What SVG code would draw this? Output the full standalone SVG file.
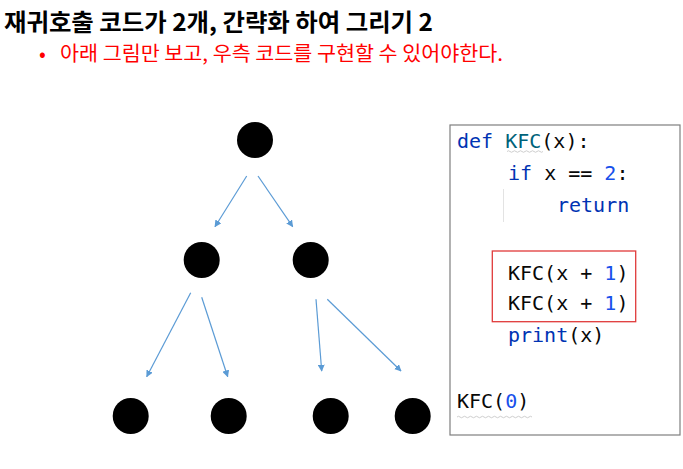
<svg xmlns="http://www.w3.org/2000/svg" width="683" height="469" viewBox="0 0 683 469">
<style>
.title{font-family:"Noto Sans CJK KR","Noto Sans",sans-serif;font-weight:bold;font-size:24px;fill:#000}
.sub{font-family:"Noto Sans CJK KR","Noto Sans",sans-serif;font-size:20px;fill:#ff0000}
.code{font-family:"DejaVu Sans Mono","Liberation Mono",monospace;font-size:20px;fill:#080808}
.kw{fill:#0033b3}
.fn{fill:#00627a}
.num{fill:#1750eb}
.node{fill:#000}
.edge{stroke:#5b9bd5;stroke-width:1.2;fill:none;marker-end:url(#arr)}
.wavy{stroke:#c8c8c8;stroke-width:0.9;fill:none}
</style>
<defs>
<marker id="arr" viewBox="0 0 10 10" refX="9" refY="5" markerWidth="7" markerHeight="7" markerUnits="userSpaceOnUse" orient="auto">
<path d="M0,0 L10,5 L0,10 z" fill="#5b9bd5"/>
</marker>
</defs>
<rect width="683" height="469" fill="#fff"/>
<text class="title" x="4" y="30.5" textLength="429" lengthAdjust="spacingAndGlyphs">재귀호출 코드가 2개, 간략화 하여 그리기 2</text>
<text class="sub" x="39" y="61">•</text>
<text class="sub" x="60" y="61" textLength="443" lengthAdjust="spacingAndGlyphs">아래 그림만 보고, 우측 코드를 구현할 수 있어야한다.</text>
<g id="connectors">
<line class="edge" x1="246.7" y1="176" x2="215" y2="226.7"/>
<line class="edge" x1="258" y1="176" x2="292.7" y2="226.7"/>
<line class="edge" x1="190.7" y1="292.7" x2="146.7" y2="376.7"/>
<line class="edge" x1="201.7" y1="297.3" x2="227.7" y2="376.7"/>
<line class="edge" x1="316" y1="299.3" x2="321.7" y2="371"/>
<line class="edge" x1="327.3" y1="299.3" x2="401" y2="371"/>
</g>
<g id="n0"><circle class="node" cx="255" cy="140" r="18"/></g>
<g id="n1"><circle class="node" cx="201.7" cy="260" r="18"/></g>
<g id="n2"><circle class="node" cx="310.7" cy="260" r="18"/></g>
<g id="n3"><circle class="node" cx="130.7" cy="416" r="18"/></g>
<g id="n4"><circle class="node" cx="228.7" cy="416" r="18"/></g>
<g id="n5"><circle class="node" cx="330.7" cy="416" r="18"/></g>
<g id="n6"><circle class="node" cx="412.7" cy="416" r="18"/></g>
<g id="code">
<rect x="450" y="125" width="230" height="310" fill="#fff" stroke="#7f7f7f" stroke-width="1.2"/>
<line x1="503.5" y1="189" x2="503.5" y2="222" stroke="#e3e3e3" stroke-width="1"/>
<rect x="492.3" y="251" width="143.4" height="70.7" fill="none" stroke="#e03a3a" stroke-width="1.3"/>
<text class="code" x="457" y="148"><tspan class="kw">def</tspan> <tspan class="fn">KFC</tspan>(x):</text>
<path class="wavy" d="M507,151.5 q1.5,-1.5 3,0 t3,0 t3,0 t3,0 t3,0 t3,0 t3,0 t3,0 t3,0 t3,0 t3,0 t3,0"/>
<text class="code" x="508" y="180"><tspan class="kw">if</tspan> x == <tspan class="num">2</tspan>:</text>
<text class="code" x="557" y="211.5"><tspan class="kw">return</tspan></text>
<text class="code" x="508" y="280">KFC(x + <tspan class="num">1</tspan>)</text>
<text class="code" x="508" y="310">KFC(x + <tspan class="num">1</tspan>)</text>
<text class="code" x="508" y="341.5"><tspan class="kw">print</tspan>(x)</text>
<text class="code" x="457" y="408">KFC(<tspan class="num">0</tspan>)</text>
<path class="wavy" d="M457,417 q1.5,-1.5 3,0 t3,0 t3,0 t3,0 t3,0 t3,0 t3,0 t3,0 t3,0 t3,0 t3,0 t3,0 t3,0 t3,0 t3,0 t3,0 t3,0 t3,0 t3,0 t3,0 t3,0 t3,0 t3,0 t3,0 t3,0"/>
</g>
</svg>
